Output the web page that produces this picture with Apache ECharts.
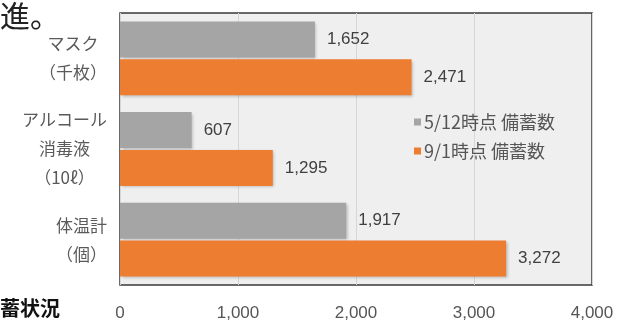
<!DOCTYPE html>
<html><head><meta charset="utf-8">
<script src="https://cdn.jsdelivr.net/npm/echarts@6/dist/echarts.min.js"></script>
<style>html,body{margin:0;padding:0;background:#fff}#c{width:642px;height:322px}</style>
</head><body><div id="c"></div>
<script>
const categories = ['マスク\n（千枚）', 'アルコール\n消毒液\n（10ℓ）', '体温計\n（個）'];
const seriesNames = ['5/12時点 備蓄数', '9/1時点 備蓄数'];
const valuesMay = [1652, 607, 1917];
const valuesSep = [2471, 1295, 3272];
const xTicks = [0, 1000, 2000, 3000, 4000];
const colors = ['#a5a5a5', '#ed7d31'];

const fmt = v => String(v).replace(/\B(?=(\d{3})+(?!\d))/g, ',');
const chart = echarts.init(document.getElementById('c'), null, {renderer: 'canvas'});
const barShadow = {shadowBlur: 3, shadowOffsetX: 1.5, shadowOffsetY: 1.5, shadowColor: 'rgba(0,0,0,0.25)'};
const jp = '"Noto Sans CJK JP", sans-serif';
const num = '"Liberation Sans", Arial, sans-serif';
chart.setOption({
  animation: false,
  backgroundColor: '#fff',
  grid: {left: 120, right: 50, top: 13, bottom: 34, show: true, backgroundColor: '#efefef', borderColor: '#3a3a3a', borderWidth: 1.5},
  legend: {
    orient: 'vertical', left: 409, top: 108, itemWidth: 7, itemHeight: 7, itemGap: 11, icon: 'rect',
    textStyle: {fontSize: 18, color: '#555', fontFamily: jp, padding: [0, 0, 0, -2]},
    data: seriesNames
  },
  xAxis: {
    type: 'value', min: xTicks[0], max: xTicks[xTicks.length - 1], interval: 1000,
    axisLine: {show: false}, axisTick: {show: false},
    splitLine: {lineStyle: {color: '#d6d6d6', width: 1}},
    axisLabel: {margin: 20, fontSize: 17, color: '#555', fontFamily: num, formatter: v => fmt(v)}
  },
  yAxis: {
    type: 'category', inverse: true, data: categories,
    axisLine: {show: false}, axisTick: {show: false},
    axisLabel: {
      margin: 13, align: 'right', fontSize: 17, color: '#5a5a5a', fontFamily: jp, lineHeight: 29,
      formatter: v => v.split('\n').map(s => '{c|' + s + '}').join('\n'),
      rich: {c: {align: 'center', fontSize: 17, color: '#5a5a5a', fontFamily: jp, lineHeight: 29}}
    }
  },
  series: [
    {name: seriesNames[0], type: 'bar', data: valuesMay, barWidth: 36, barGap: '5%',
     itemStyle: Object.assign({color: colors[0]}, barShadow),
     label: {show: true, position: 'right', distance: 12, fontSize: 17, color: '#404040', fontFamily: num, formatter: p => fmt(p.value)}},
    {name: seriesNames[1], type: 'bar', data: valuesSep, barWidth: 36,
     itemStyle: Object.assign({color: colors[1]}, barShadow),
     label: {show: true, position: 'right', distance: 12, fontSize: 17, color: '#404040', fontFamily: num, formatter: p => fmt(p.value)}}
  ],
  graphic: [
    {type: 'text', left: 0, top: 1, style: {text: '進。', fontSize: 30, fill: '#222', fontFamily: jp}},
    {type: 'text', left: 0, top: 298, style: {text: '蓄状況', fontSize: 20, fontWeight: 'bold', fill: '#111', fontFamily: jp}}
  ]
});
</script></body></html>
